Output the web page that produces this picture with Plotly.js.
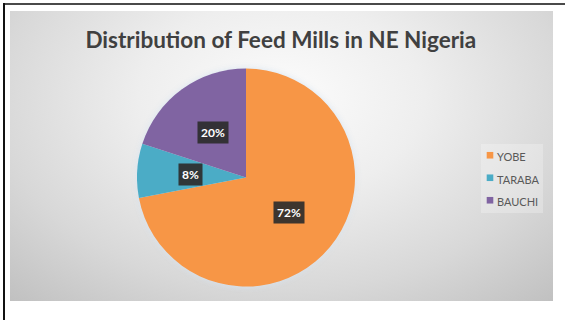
<!DOCTYPE html>
<html>
<head>
<meta charset="utf-8">
<script src="https://cdn.plot.ly/plotly-3.0.1.min.js"></script>
<style>
  html, body { margin: 0; padding: 0; background: #ffffff; }
  #wrap { position: relative; width: 565px; height: 320px; overflow: hidden; background: #ffffff; }
  #bg { position: absolute; left: 10px; top: 11px; width: 543px; height: 290px;
        background: radial-gradient(ellipse 75% 95% at 50% 30%, #fcfcfc 0%, #eeeeee 35%, #d8d8d8 70%, #c0c0c0 100%); }
  #legbox { position: absolute; left: 481px; top: 144px; width: 62px; height: 69px; background: rgba(255,255,255,0.25); }
  #topline { position: absolute; left: 3px; top: 3px; width: 562px; height: 2px; background: #4a4a4a; }
  #leftline { position: absolute; left: 3px; top: 3px; width: 2px; height: 317px; background: #111111; }
  #chart { position: absolute; left: 0; top: 0; width: 565px; height: 320px; }
  .pielayer { filter: drop-shadow(0 0 3px rgba(215,228,240,0.95)); }
  path.legendpie { transform: translate(33px, 0px) scale(0.55); }
</style>
</head>
<body>
<div id="wrap">
  <div id="bg"></div>
  <div id="legbox"></div>
  <div id="topline"></div>
  <div id="leftline"></div>
  <div id="chart"></div>
</div>
<script>
// ---- data ----
const categories = ["YOBE", "TARABA", "BAUCHI"];
const values = [72, 8, 20];
const labelsText = ["72%", "8%", "20%"];
const colors = ["#F79646", "#4BACC6", "#8064A2"];

// ---- layout constants ----
const W = 565, H = 320;
const CX = 246, CY = 177.5, R = 109;   // pie centre / radius in pixels
const LABEL_FRAC = 0.51;

const domX = [(CX - R) / W, (CX + R) / W];
const domY = [1 - (CY + R) / H, 1 - (CY - R) / H];

// annotations for data labels, positioned along each slice's bisector
const total = values.reduce((a, b) => a + b, 0);
let cum = 0;
const annotations = values.map((v, i) => {
  const mid = (cum + v / 2) / total * 2 * Math.PI; // clockwise from 12 o'clock
  cum += v;
  const px = CX + LABEL_FRAC * R * Math.sin(mid);
  const py = CY - LABEL_FRAC * R * Math.cos(mid);
  return {
    xref: 'paper', yref: 'paper',
    x: px / W, y: 1 - py / H,
    xanchor: 'center', yanchor: 'middle',
    text: '<b>' + labelsText[i] + '</b>',
    showarrow: false,
    font: { family: 'Lato, "Open Sans", sans-serif', size: 12, color: '#ffffff' },
    bgcolor: 'rgba(45,45,45,0.92)',
    borderpad: 3
  };
});

const trace = {
  type: 'pie',
  labels: categories.map(c => '<span style="font-size:11px">' + c + '</span>'),
  values: values,
  sort: false,
  direction: 'clockwise',
  rotation: 0,
  textinfo: 'none',
  hoverinfo: 'label+percent',
  marker: { colors: colors, line: { width: 0 } },
  domain: { x: domX, y: domY }
};

const layout = {
  width: W, height: H,
  margin: { l: 0, r: 0, t: 0, b: 0 },
  paper_bgcolor: 'rgba(0,0,0,0)',
  plot_bgcolor: 'rgba(0,0,0,0)',
  title: {
    text: 'Distribution of Feed Mills in NE Nigeria',
    font: { family: 'Lato, "Open Sans", sans-serif', size: 22.5, color: '#404040', weight: 700 },
    x: 0.497, xanchor: 'center', xref: 'paper',
    y: 1 - 40 / H, yanchor: 'middle', yref: 'container'
  },
  showlegend: true,
  legend: {
    x: 457 / W, xanchor: 'left',
    y: 1 - 139 / H, yanchor: 'top',
    bgcolor: 'rgba(0,0,0,0)',
    borderwidth: 0,
    itemwidth: 30,
    font: { family: 'Lato, "Open Sans", sans-serif', size: 15, color: '#595959' }
  },
  annotations: annotations
};

Plotly.newPlot('chart', [trace], layout, { displayModeBar: false, staticPlot: true });
</script>
</body>
</html>
